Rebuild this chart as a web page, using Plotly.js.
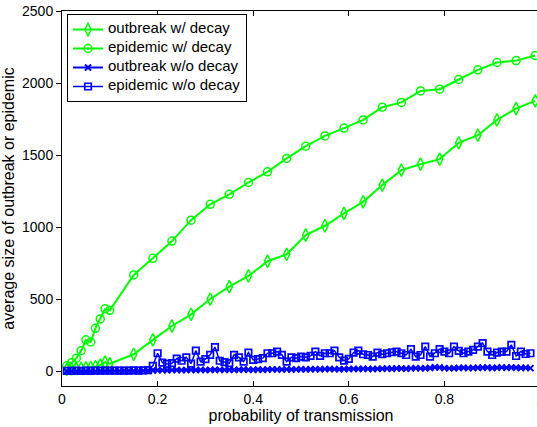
<!DOCTYPE html>
<html>
<head>
<meta charset="utf-8">
<script src="https://cdn.plot.ly/plotly-3.0.1.min.js"></script>
<style>
html, body { margin: 0; padding: 0; overflow: hidden; background: #fff; }
#chart { width: 560px; height: 427px; }
</style>
</head>
<body>
<div id="chart"></div>
<script>
// Transmission probabilities for the "with decay" runs
var decayP = [0.01,0.02,0.03,0.04,0.05,0.06,0.07,0.08,0.09,0.10,0.15,0.19,0.23,0.27,0.31,0.35,0.39,0.43,0.47,0.51,0.55,0.59,0.63,0.67,0.71,0.75,0.79,0.83,0.87,0.91,0.95,0.99];
var outbreakDecay = [15,18,20,22,25,28,35,45,65,55,120,220,316,397,503,589,663,765,813,947,1011,1097,1177,1293,1397,1438,1473,1586,1639,1745,1824,1877];
var epidemicDecay = [40,62,93,145,220,205,300,365,435,425,670,785,905,1050,1160,1229,1311,1385,1478,1563,1634,1688,1745,1833,1866,1946,1958,2025,2092,2143,2156,2191];

// Transmission probabilities for the "without decay" runs
var noDecayP = [0.01,0.02,0.03,0.04,0.05,0.06,0.07,0.08,0.09,0.10,0.11,0.12,0.13,0.14,0.15,0.16,0.17,0.18,0.19,0.20,
  0.21,0.22,0.23,0.24,0.25,0.26,0.27,0.28,0.29,0.30,0.31,0.32,0.33,0.34,0.35,0.36,0.37,0.38,0.39,0.40,
  0.41,0.42,0.43,0.44,0.45,0.46,0.47,0.48,0.49,0.50,0.51,0.52,0.53,0.54,0.55,0.56,0.57,0.58,0.59,0.60,
  0.61,0.62,0.63,0.64,0.65,0.66,0.67,0.68,0.69,0.70,0.71,0.72,0.73,0.74,0.75,0.76,0.77,0.78,0.79,0.80,
  0.81,0.82,0.83,0.84,0.85,0.86,0.87,0.88,0.89,0.90,0.91,0.92,0.93,0.94,0.95,0.96,0.97,0.98];
var outbreakNoDecay = [2,2,2,2,2,3,3,3,3,3,3,3,4,4,4,4,5,5,
  8,9,10,9,10,11,10,11,12,11,12,11,12,13,12,12,13,12,13,14,
  13,13,14,13,14,15,14,14,15,14,15,16,15,16,17,16,17,18,17,16,
  17,18,19,18,20,19,18,19,20,21,20,22,21,20,22,24,22,23,25,30,
  28,24,22,23,25,26,24,25,27,26,28,25,27,29,26,28,27,25,26,24];
var epidemicNoDecay = [5,5,6,5,6,5,6,7,6,6,7,6,7,6,8,7,8,10,
  40,127,62,53,58,90,
  75,99,55,145,69,86,116,170,75,65,58,116,99,69,132,81,86,93,127,127,139,116,69,99,93,104,99,109,139,109,127,127,145,99,76,88,132,145,
  120,115,104,132,120,127,134,139,127,115,155,104,115,173,104,127,155,139,127,173,143,127,139,150,173,197,139,115,132,139,139,185,108,139,122,127];

var seriesNames = ['outbreak w/ decay','epidemic w/ decay','outbreak w/o decay','epidemic w/o decay'];
var xTickVals = [0,0.2,0.4,0.6,0.8,1];
var xTickText = ['0','0.2','0.4','0.6','0.8','1'];
var yTickVals = [0,500,1000,1500,2000,2500];
var yTickText = ['0','500','1000','1500','2000','2500'];

var GREEN = '#00ff00', BLUE = '#0000ff';
var FONT = 'Liberation Sans, Arial, Helvetica, sans-serif';
function legendName(s) { return '<span style="font-size:15px">' + s + '</span>'; }

var traces = [
  {x: decayP, y: outbreakDecay, name: legendName(seriesNames[0]), type: 'scatter', mode: 'lines+markers',
   line: {color: GREEN, width: 2},
   marker: {symbol: 'diamond-tall-open', size: 9, color: GREEN, line: {color: GREEN, width: 1.5}}},
  {x: decayP, y: epidemicDecay, name: legendName(seriesNames[1]), type: 'scatter', mode: 'lines+markers',
   line: {color: GREEN, width: 2},
   marker: {symbol: 'circle-open', size: 8, color: GREEN, line: {color: GREEN, width: 1.5}}},
  {x: noDecayP, y: outbreakNoDecay, name: legendName(seriesNames[2]), type: 'scatter', mode: 'lines+markers',
   line: {color: BLUE, width: 2},
   marker: {symbol: 'x-thin-open', size: 6, color: BLUE, line: {color: BLUE, width: 2}}},
  {x: noDecayP, y: epidemicNoDecay, name: legendName(seriesNames[3]), type: 'scatter', mode: 'lines+markers',
   line: {color: BLUE, width: 1.5},
   marker: {symbol: 'square-open', size: 6.5, color: BLUE, line: {color: BLUE, width: 1.7}}}
];

var layout = {
  width: 560, height: 427,
  margin: {l: 62, r: 20, t: 11, b: 41, pad: 0},
  paper_bgcolor: '#fff', plot_bgcolor: '#fff',
  font: {family: FONT, color: '#000', size: 14},
  showlegend: true,
  legend: {x: 0.0105, y: 0.992, xanchor: 'left', yanchor: 'top',
    bgcolor: '#fff', bordercolor: '#000', borderwidth: 1,
    font: {family: FONT, size: 10, color: '#000'}, tracegroupgap: 0},
  xaxis: {range: [0, 1], tickvals: xTickVals, ticktext: xTickText,
    showline: true, linecolor: '#000', linewidth: 1, mirror: 'ticks',
    ticks: 'inside', ticklen: 5, tickcolor: '#000', showgrid: false, zeroline: false,
    tickfont: {family: FONT, size: 14, color: '#000'},
    title: {text: 'probability of transmission', font: {family: FONT, size: 16, color: '#000'}, standoff: 4}},
  yaxis: {range: [-100, 2500], tickvals: yTickVals, ticktext: yTickText,
    showline: true, linecolor: '#000', linewidth: 1, mirror: true,
    ticks: 'outside', ticklen: 5, tickcolor: '#000', showgrid: false, zeroline: false,
    tickfont: {family: FONT, size: 14, color: '#000'},
    title: {text: 'average size of outbreak or epidemic', font: {family: FONT, size: 16, color: '#000'}, standoff: 6}},
  yaxis2: {overlaying: 'y', side: 'right', anchor: 'x', range: [-100, 2500], tickvals: yTickVals,
    showticklabels: false, ticks: 'inside', ticklen: 5, tickcolor: '#000',
    showline: false, showgrid: false, zeroline: false}
};

Plotly.newPlot('chart', traces, layout, {displayModeBar: false, staticPlot: true});
</script>
</body>
</html>
